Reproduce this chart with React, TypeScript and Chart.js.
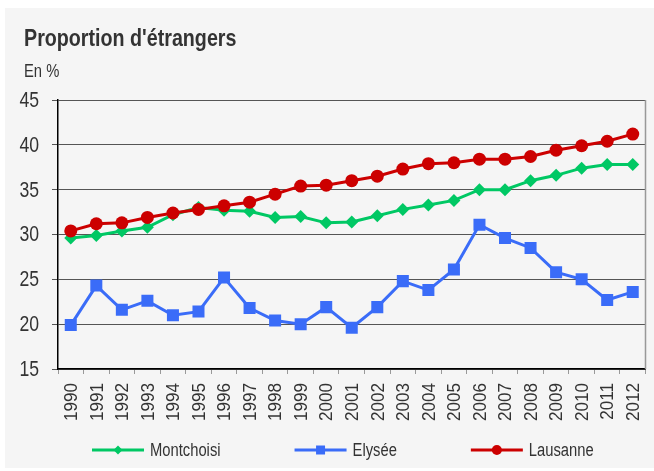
import React, { useEffect, useRef } from 'react';
import { Chart, registerables } from 'chart.js';
Chart.register(...registerables);

const years = ['1990','1991','1992','1993','1994','1995','1996','1997','1998','1999','2000','2001','2002','2003','2004','2005','2006','2007','2008','2009','2010','2011','2012'];
const montchoisi = [29.6, 29.9, 30.4, 30.8, 32.2, 33.0, 32.7, 32.6, 31.9, 32.0, 31.3, 31.4, 32.1, 32.8, 33.3, 33.8, 35.0, 35.0, 36.0, 36.6, 37.4, 37.8, 37.8];
const elysee = [19.9, 24.3, 21.6, 22.6, 21.0, 21.4, 25.2, 21.8, 20.4, 20.0, 21.9, 19.6, 21.9, 24.8, 23.8, 26.1, 31.1, 29.6, 28.5, 25.8, 25.0, 22.7, 23.6];
const lausanne = [30.4, 31.2, 31.3, 31.9, 32.4, 32.8, 33.2, 33.6, 34.5, 35.4, 35.5, 36.0, 36.5, 37.3, 37.9, 38.0, 38.4, 38.4, 38.7, 39.4, 39.9, 40.4, 41.2];
const yTicks = [15, 20, 25, 30, 35, 40, 45];
const seriesNames = ['Montchoisi', 'Elysée', 'Lausanne'];
const titleText = "Proportion d'étrangers";
const subtitleText = 'En %';

const FONT = '"Liberation Sans", Arial, sans-serif';
const TEXT = '#333333';
const GREEN = '#00c864';
const BLUE = '#3a6cf8';
const RED = '#cc0000';
const NARROW_K = 0.82;

function textScaled(ctx: CanvasRenderingContext2D, text: string, x: number, y: number, k: number) {
  ctx.save();
  ctx.translate(x, y);
  ctx.scale(k, 1);
  ctx.fillText(text, 0, 0);
  ctx.restore();
}

function drawMarker(ctx: CanvasRenderingContext2D, style: string, x: number, y: number, s: number, color: string) {
  ctx.fillStyle = color;
  ctx.beginPath();
  if (style === 'circle') {
    ctx.arc(x, y, s, 0, Math.PI * 2);
  } else if (style === 'rect') {
    ctx.rect(x - s, y - s, 2 * s, 2 * s);
  } else {
    ctx.moveTo(x, y - s);
    ctx.lineTo(x + s, y);
    ctx.lineTo(x, y + s);
    ctx.lineTo(x - s, y);
    ctx.closePath();
  }
  ctx.fill();
}

const decorPlugin = {
  id: 'decor',
  beforeDraw(chart: any) {
    const ctx = chart.ctx as CanvasRenderingContext2D;
    ctx.save();
    ctx.fillStyle = '#ffffff';
    ctx.fillRect(0, 0, chart.width, chart.height);
    ctx.fillStyle = '#f5f5f5';
    ctx.fillRect(5, 8, chart.width - 5, 460);
    ctx.fillStyle = TEXT;
    ctx.textBaseline = 'alphabetic';
    ctx.textAlign = 'left';
    ctx.font = 'bold 24px ' + FONT;
    textScaled(ctx, titleText, 24, 46, NARROW_K);
    ctx.font = '18px ' + FONT;
    textScaled(ctx, subtitleText, 24, 77, NARROW_K);
    ctx.restore();
  },
  afterDraw(chart: any) {
    const ctx = chart.ctx as CanvasRenderingContext2D;
    const a = chart.chartArea;
    const xs = chart.scales.x;
    const ys = chart.scales.y;
    ctx.save();
    ctx.strokeStyle = '#999999';
    ctx.lineWidth = 1.5;
    ctx.beginPath();
    ctx.moveTo(a.right, a.top);
    ctx.lineTo(a.right, a.bottom);
    ctx.stroke();

    // y tick labels
    ctx.fillStyle = TEXT;
    ctx.font = '21.5px ' + FONT;
    ctx.textAlign = 'right';
    ctx.textBaseline = 'middle';
    yTicks.forEach((v) => {
      textScaled(ctx, String(v), a.left - 19, ys.getPixelForValue(v) + 1, NARROW_K);
    });

    // x tick labels (rotated)
    ctx.font = '19px ' + FONT;
    years.forEach((lab, i) => {
      const px = xs.getPixelForValue(i);
      ctx.save();
      ctx.translate(px + 1, a.bottom + 14);
      ctx.rotate(-Math.PI / 2);
      ctx.scale(0.9, 1);
      ctx.textAlign = 'right';
      ctx.textBaseline = 'middle';
      ctx.fillText(lab, 0, 0);
      ctx.restore();
    });

    // legend
    const styles = ['rectRot', 'rect', 'circle'];
    const sizes = [4.5, 4.5, 5];
    let x = 92;
    const y = 450;
    ctx.font = '18px ' + FONT;
    ctx.textBaseline = 'middle';
    ctx.textAlign = 'left';
    chart.data.datasets.forEach((ds: any, i: number) => {
      ctx.strokeStyle = ds.borderColor;
      ctx.lineWidth = 3;
      ctx.beginPath();
      ctx.moveTo(x, y);
      ctx.lineTo(x + 52, y);
      ctx.stroke();
      drawMarker(ctx, styles[i], x + 26, y, sizes[i], ds.borderColor);
      ctx.fillStyle = TEXT;
      textScaled(ctx, ds.label, x + 58, y + 1, NARROW_K);
      const w = ctx.measureText(ds.label).width * NARROW_K;
      x += 58 + w + 74;
    });
    ctx.restore();
  },
};

export default function App() {
  const ref = useRef<HTMLCanvasElement>(null);
  useEffect(() => {
    if (!ref.current) return;
    const chart = new Chart(ref.current, {
      type: 'line',
      data: {
        labels: years,
        datasets: [
          { label: seriesNames[0], data: montchoisi, order: 2, borderColor: GREEN, backgroundColor: GREEN, borderWidth: 3, pointStyle: 'rectRot', pointRadius: 6.5, pointBorderWidth: 0, tension: 0 },
          { label: seriesNames[1], data: elysee, order: 1, borderColor: BLUE, backgroundColor: BLUE, borderWidth: 3, pointStyle: 'rect', pointRadius: 8.5, pointBorderWidth: 0, tension: 0 },
          { label: seriesNames[2], data: lausanne, order: 0, borderColor: RED, backgroundColor: RED, borderWidth: 3, pointStyle: 'circle', pointRadius: 6.5, pointBorderWidth: 0, tension: 0 },
        ],
      },
      options: {
        responsive: false,
        animation: false,
        devicePixelRatio: 1,
        layout: { padding: { top: 100, left: 0, right: 7, bottom: 0 } },
        plugins: { legend: { display: false }, tooltip: { enabled: false }, title: { display: false } },
        scales: {
          x: {
            offset: true,
            afterFit: (s: any) => { s.height = 102; },
            grid: { display: true, drawOnChartArea: false, drawTicks: true, tickLength: 5, color: '#999999', offset: true },
            border: { display: true, color: '#000000', width: 1.5 },
            ticks: { display: false, autoSkip: false },
          },
          y: {
            min: yTicks[0],
            max: yTicks[yTicks.length - 1],
            afterFit: (s: any) => { s.width = 58; },
            afterBuildTicks: (s: any) => { s.ticks = yTicks.map((v) => ({ value: v })); },
            grid: { color: '#555555', lineWidth: 1, tickLength: 6 },
            border: { display: true, color: '#000000', width: 1.5 },
            ticks: { display: false },
          },
        },
      },
      plugins: [decorPlugin],
    });
    return () => chart.destroy();
  }, []);
  return (
    <div style={{ position: 'fixed', left: 0, top: 0, width: 654, height: 471 }}>
      <canvas ref={ref} width={654} height={471} style={{ display: 'block', width: 654, height: 471 }} />
    </div>
  );
}
